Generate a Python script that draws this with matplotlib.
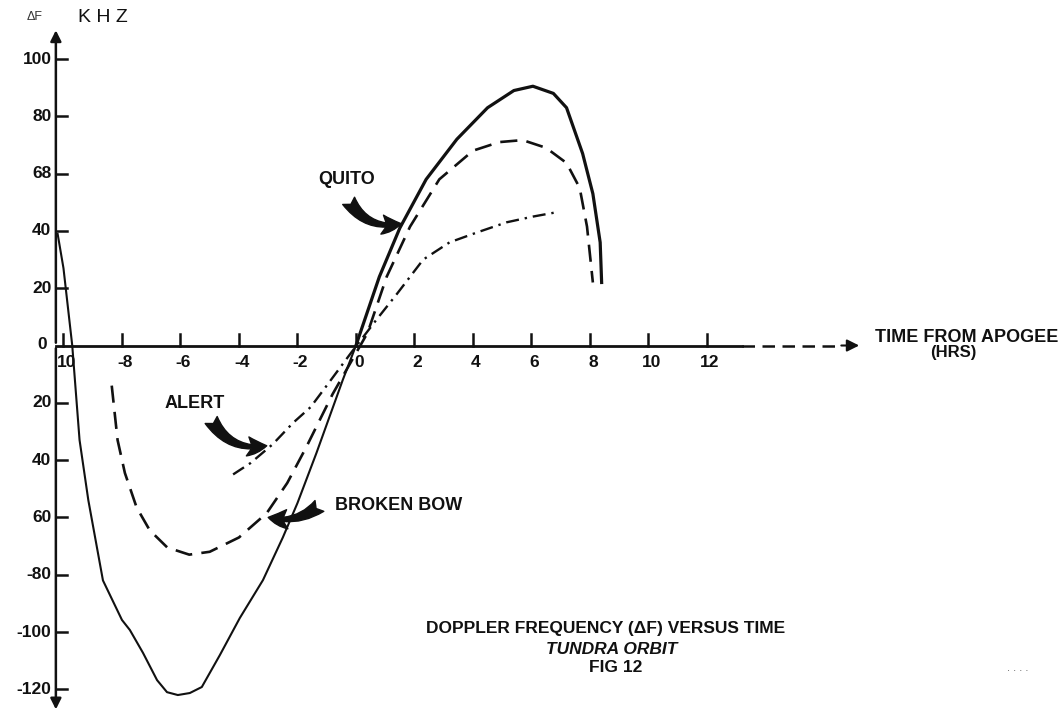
import matplotlib.pyplot as plt

plt.rcParams['font.family'] = ['Liberation Sans', 'DejaVu Sans']

# values (hours from apogee, kHz)
quito_t = [-10.2, -10.0, -9.7, -9.45, -9.15, -8.65, -8.0, -7.73, -7.28, -6.8, -6.46,
           -6.09, -5.68, -5.27, -4.65, -3.97, -3.18, -2.5, -2.0, -1.35, -0.45, 0.0,
           0.8, 1.5, 2.4, 3.45, 4.5, 5.4, 6.05, 6.75, 7.2, 7.75, 8.1, 8.35, 8.4]
quito_df = [39, 27, 0, -33, -54, -82, -95.8, -99.3, -107.3, -116.8, -121,
            -122, -121.3, -119.2, -108, -95.1, -81.9, -67, -55, -37.5, -12, 0,
            24, 41, 58, 72, 83, 89, 90.5, 88, 83, 67, 53, 36, 22]

bow_t = [-8.35, -8.15, -7.9, -7.5, -7.05, -6.45, -5.7, -5.0, -4.0, -3.05, -2.35,
         -1.7, -0.8, 0.15, 0.4, 1.05, 1.85, 2.85, 4.0, 4.9, 5.7, 6.5, 7.2, 7.65,
         7.9, 8.1]
bow_df = [-14, -33, -44.5, -56.5, -64.5, -70.5, -73, -72, -67, -58.5, -48,
          -35.5, -17, 0, 4.5, 24, 41.5, 58, 68, 71, 71.7, 69, 63.7, 55,
          41.5, 22]

alert_t = [-4.2, -3.6, -2.85, -2.15, -1.55, -1.0, -0.2, 0.7, 1.4, 2.3, 3.2, 4.15,
           5.15, 6.05, 6.85]
alert_df = [-45, -41, -34.5, -27, -21.5, -14, -3, 9, 18, 30, 36, 39.5,
            43, 45, 46.5]

xticks = [-10, -8, -6, -4, -2, 0, 2, 4, 6, 8, 10, 12]
xticklabels = ['10', '-8', '-6', '-4', '-2', '0', '2', '4', '6', '8', '10', '12']
yticks = [100, 80, 60, 40, 20, -20, -40, -60, -80, -100, -120]
yticklabels = ['100', '80', '68', '40', '20', '20', '40', '60', '-80', '-100', '-120']

W, H = 1062, 715
fig = plt.figure(figsize=(W / 100, H / 100), dpi=100)
ax = fig.add_axes([0, 0, 1, 1])
ax.set_xlim(-12.17, 24.14)
ax.set_ylim(-128.97, 120.6)
ax.axis('off')

def px(x, y):
    return x / W, 1 - y / H

ink = '#111111'
x0 = -10.26

# axes drawn by hand like the original sketch
ax.annotate('', xy=(x0, 111), xytext=(x0, 0),
            arrowprops=dict(arrowstyle='-|>', lw=1.8, color=ink, mutation_scale=16))
ax.annotate('', xy=(x0, -128), xytext=(x0, 0),
            arrowprops=dict(arrowstyle='-|>', lw=1.8, color=ink, mutation_scale=16))
ax.plot([x0, 13.2], [0, 0], color=ink, lw=2)
ax.plot([13.2, 16.6], [0, 0], color=ink, lw=1.8, dashes=(5, 3))
ax.annotate('', xy=(17.3, 0), xytext=(16.5, 0),
            arrowprops=dict(arrowstyle='-|>', lw=1.5, color=ink, mutation_scale=18))

for v, lab in zip(yticks, yticklabels):
    ax.plot([x0, x0 + 0.38], [v, v], color=ink, lw=1.8)
    ax.text(x0 - 0.15, v, lab, ha='right', va='center', fontsize=12.5,
            fontweight='bold', color=ink)
ax.text(x0 - 0.3, 0.5, '0', ha='right', va='center', fontsize=12.5,
        fontweight='bold', color=ink)

for t, lab in zip(xticks, xticklabels):
    ax.plot([t, t], [0, 4], color=ink, lw=1.8)
    ax.text(t + 0.1, -6, lab, ha='center', va='center', fontsize=12.5,
            fontweight='bold', color=ink)

# curves
split = quito_t.index(0.0) + 1
ax.plot(quito_t[:split], quito_df[:split], color=ink, lw=1.5)
ax.plot(quito_t[split - 1:], quito_df[split - 1:], color=ink, lw=2.3)
ax.plot(bow_t, bow_df, color=ink, lw=1.9, dashes=(6.5, 3.5))
ax.plot(alert_t, alert_df, color=ink, lw=1.7, dashes=(5.5, 2.5, 1, 2.5))

arrow = dict(arrowstyle='fancy,head_length=0.55,head_width=0.55,tail_width=0.4',
             color=ink, mutation_scale=25, shrinkA=0, shrinkB=0)
ax.annotate('', xy=(1.55, 42.5), xytext=(-0.25, 50.5),
            arrowprops=dict(arrow, connectionstyle='arc3,rad=0.35'))
ax.annotate('', xy=(-3.05, -35.0), xytext=(-4.95, -26),
            arrowprops=dict(arrow, connectionstyle='arc3,rad=0.35'))
ax.annotate('', xy=(-3.0, -60), xytext=(-1.25, -56),
            arrowprops=dict(arrow, connectionstyle='arc3,rad=-0.25'))

bold = dict(fontweight='bold', color=ink, fontsize=13)
fig.text(*px(347, 180), 'QUITO', ha='center', va='center', **bold)
fig.text(*px(195, 403), 'ALERT', ha='center', va='center', **bold)
fig.text(*px(335, 505), 'BROKEN BOW', ha='left', va='center', **bold)
fig.text(*px(1058, 338), 'TIME FROM APOGEE', ha='right', va='center', **bold)
fig.text(*px(953, 353), '(HRS)', ha='center', va='center',
         fontweight='bold', color=ink, fontsize=12)

fig.text(*px(35, 17), 'ΔF', ha='center', va='center', fontsize=9, color='#333333')
fig.text(*px(103, 17), 'K H Z', ha='center', va='center', fontsize=14, color=ink)

title = dict(fontweight='bold', color=ink, fontsize=12.5, ha='center', va='center')
fig.text(*px(606, 629), 'DOPPLER FREQUENCY (ΔF) VERSUS TIME', **title)
fig.text(*px(612, 649), 'TUNDRA ORBIT', fontstyle='italic', **title)
fig.text(*px(616, 668), 'FIG 12', **title)
fig.text(*px(1018, 668), '. . . .', ha='center', va='center', fontsize=8, color='#555555')

fig.savefig('out.png', dpi=100, facecolor='white')
